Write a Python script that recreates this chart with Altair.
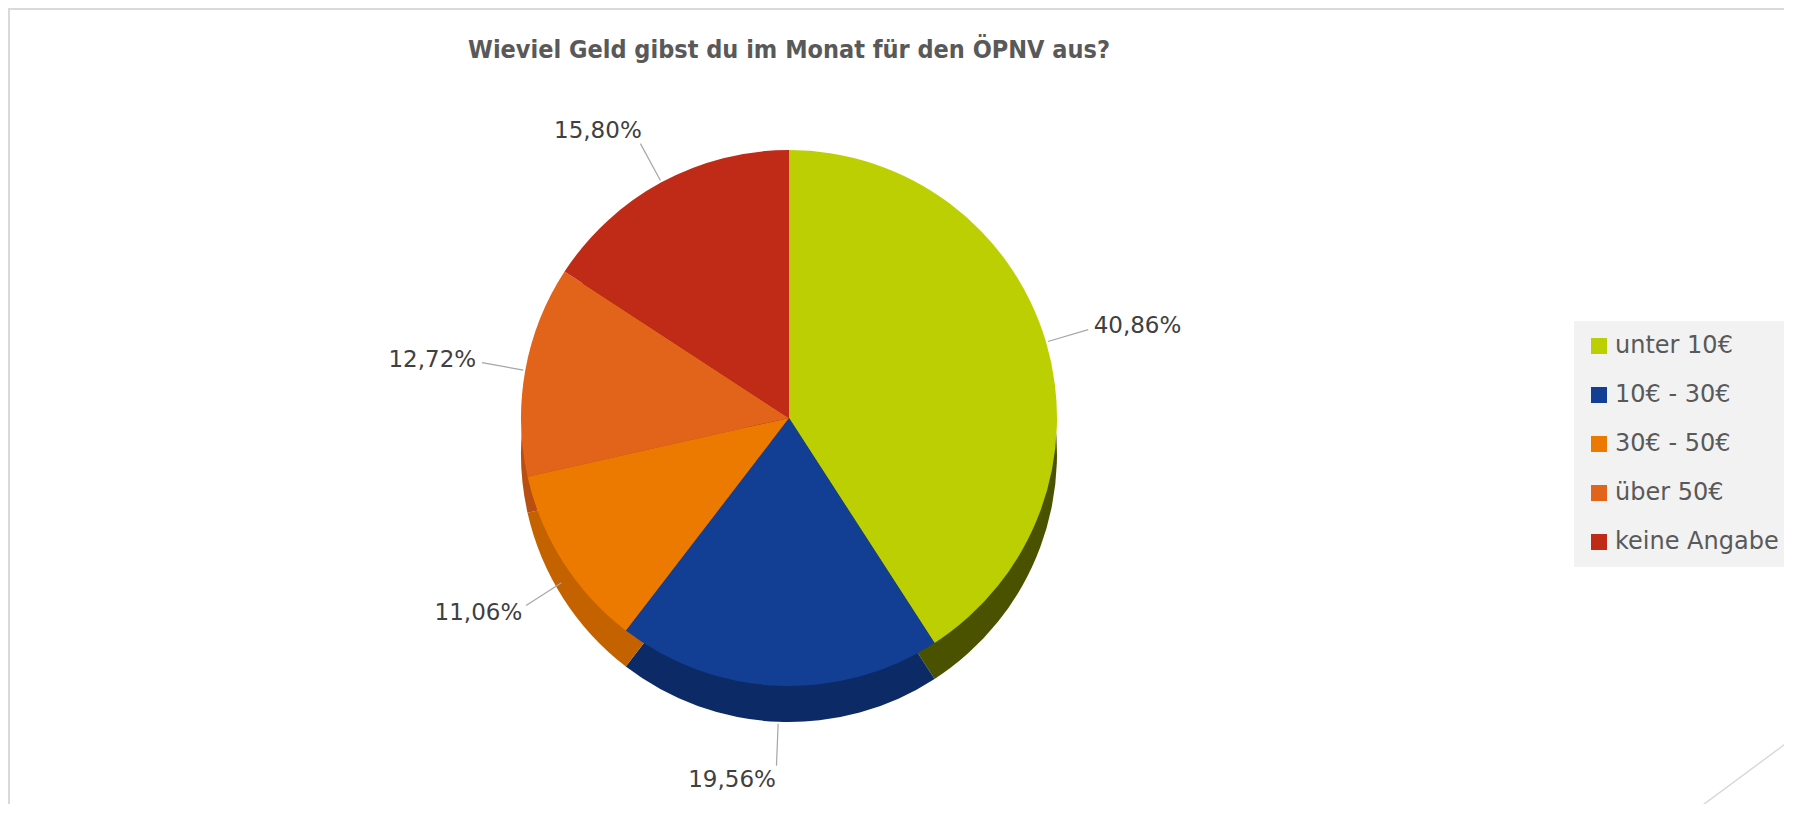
import math
import altair as alt
import pandas as pd

# ---- data ----
categories = ["unter 10€", "10€ - 30€", "30€ - 50€", "über 50€", "keine Angabe"]
shares = [40.86, 19.56, 11.06, 12.72, 15.80]
top_colors = ["#BCCF02", "#123F94", "#EC7A00", "#E2631A", "#C02B18"]
side_colors = ["#4A5200", "#0C2A66", "#C46200", "#B84E12", "#8E1F10"]
title_text = "Wieviel Geld gibst du im Monat für den ÖPNV aus?"

labels = [f"{v:.2f}".replace(".", ",") + "%" for v in shares]
df = pd.DataFrame({
    "cat": categories,
    "value": shares,
    "order": list(range(len(categories))),
    "label": labels,
})

FONT_T = "DejaVu Sans Condensed, DejaVu Sans, sans-serif"
FONT = "DejaVu Sans, sans-serif"
W, H = 1776, 796
CX, CY = 781, 410
R = 268
D = 36  # depth of the "3D" rim
L = 58  # label distance beyond rim

base = alt.Chart(df)

side = base.mark_arc(stroke=None).encode(
    theta=alt.Theta("value:Q", stack=True),
    order=alt.Order("order:Q"),
    color=alt.Color("cat:N", scale=alt.Scale(domain=categories, range=side_colors), legend=None),
    x=alt.value(CX),
    y=alt.value(CY + D),
    radius=alt.value(R),
)

top = base.mark_arc(stroke=None).encode(
    theta=alt.Theta("value:Q", stack=True),
    order=alt.Order("order:Q"),
    color=alt.Color(
        "cat:N",
        scale=alt.Scale(domain=categories, range=top_colors),
        sort=categories,
        legend=alt.Legend(
            title=None,
            orient="none",
            legendX=1566,
            legendY=313,
            fillColor="#F2F2F2",
            padding=13,
            labelFont=FONT,
            labelFontSize=24,
            labelColor="#595959",
            labelLimit=400,
            symbolType="square",
            symbolSize=256,
            symbolStrokeWidth=0,
            symbolOpacity=1,
            rowPadding=25,
            labelOffset=4,
        ),
    ),
    x=alt.value(CX),
    y=alt.value(CY),
    radius=alt.value(R),
)

geo = base.transform_window(
    cum="sum(value)", sort=[alt.SortField("order")], frame=[None, 0]
).transform_calculate(
    mid="(datum.cum - datum.value/2) / 100 * 2 * PI",
).transform_calculate(
    s="sin(datum.mid)",
    c="cos(datum.mid)",
).transform_calculate(
    drop=f"datum.c < 0 ? {D} * (-datum.c) : 0",
).transform_calculate(
    x1=f"{CX} + {R + 2} * datum.s",
    y1=f"{CY} - {R + 2} * datum.c + datum.drop",
    x2=f"{CX} + {R + L - 14} * datum.s",
    y2=f"{CY} - {R + L - 14} * datum.c + datum.drop",
    lx=f"{CX} + {R + L} * datum.s",
    ly=f"{CY} - {R + L} * datum.c + datum.drop",
)

leaders = geo.mark_rule(color="#A6A6A6", strokeWidth=1.2).encode(
    x=alt.X("x1:Q", scale=None),
    y=alt.Y("y1:Q", scale=None),
    x2="x2:Q",
    y2="y2:Q",
)

def label_layer(filter_expr, align, dx):
    return geo.transform_filter(filter_expr).mark_text(
        font=FONT, fontSize=23, color="#404040", align=align, baseline="middle", dx=dx
    ).encode(
        x=alt.X("lx:Q", scale=None),
        y=alt.Y("ly:Q", scale=None),
        text="label:N",
    )

lab_right = label_layer("datum.s > 0.2", "left", -8)
lab_left = label_layer("datum.s < -0.2", "right", 8)
lab_mid = label_layer("abs(datum.s) <= 0.2", "right", 0)

title = alt.Chart(pd.DataFrame({"t": [title_text]})).mark_text(
    font=FONT_T, fontSize=25, fontWeight="bold", color="#595959", align="center", baseline="middle"
).encode(text="t:N", x=alt.value(CX), y=alt.value(42))

frame_top = alt.Chart(pd.DataFrame({"k": [0]})).mark_rule(color="#D9D9D9", strokeWidth=2).encode(
    x=alt.value(0), x2=alt.value(W), y=alt.value(1)
)
frame_left = alt.Chart(pd.DataFrame({"k": [0]})).mark_rule(color="#D9D9D9", strokeWidth=2).encode(
    x=alt.value(1), y=alt.value(0), y2=alt.value(H)
)
diag = alt.Chart(pd.DataFrame({"k": [0]})).mark_rule(color="#D9D9D9", strokeWidth=1.5).encode(
    x=alt.value(1680), y=alt.value(H + 12), x2=alt.value(W + 12), y2=alt.value(728)
)

chart = alt.layer(
    side, top, leaders, lab_right, lab_left, lab_mid, title, frame_top, frame_left, diag
).resolve_scale(color="independent").properties(
    width=W, height=H, padding=0, autosize=alt.AutoSizeParams(type="none")
).configure_view(stroke=None)

chart.save("out.html", embed_options={"renderer": "svg", "actions": False})
